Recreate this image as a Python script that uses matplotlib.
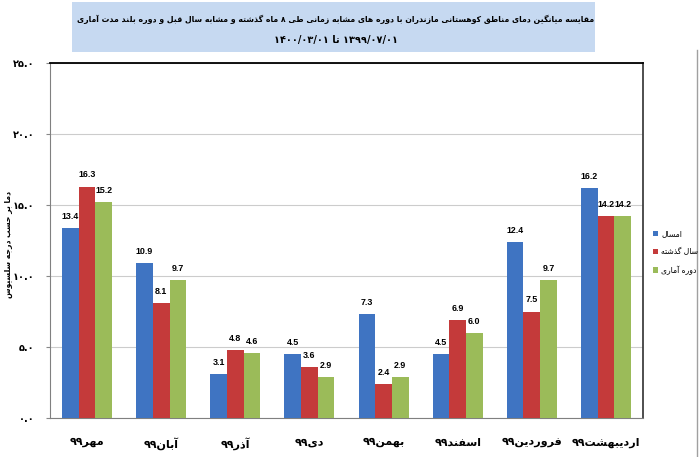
import numpy as np
import matplotlib
matplotlib.use("Agg")
import matplotlib.pyplot as plt
from matplotlib.patches import Rectangle
from matplotlib.lines import Line2D

# --- data ---
months = ["مهر۹۹", "آبان۹۹", "آذر۹۹", "دی۹۹", "بهمن۹۹", "اسفند۹۹", "فروردین۹۹", "اردیبهشت۹۹"]
this_year = [13.4, 10.9, 3.1, 4.5, 7.3, 4.5, 12.4, 16.2]
last_year = [16.3, 8.1, 4.8, 3.6, 2.4, 6.9, 7.5, 14.2]
long_term = [15.2, 9.7, 4.6, 2.9, 2.9, 6.0, 9.7, 14.2]
series_names = ["امسال", "سال گذشته", "دوره آماری"]
yticks = [0, 5, 10, 15, 20, 25]
ytick_labels = ["۰.۰", "۵.۰", "۱۰.۰", "۱۵.۰", "۲۰.۰", "۲۵.۰"]
title1 = "مقایسه میانگین دمای مناطق کوهستانی مازندران با دوره های مشابه زمانی طی ۸ ماه گذشته و مشابه سال قبل و دوره بلند مدت آماری"
title2 = "۱۴۰۰/۰۳/۰۱ " + "تا" + " ۱۳۹۹/۰۷/۰۱"
ylabel = "دما بر حسب درجه سلسیوس"
colors = ["#3F74C2", "#C43A3A", "#9BBB59"]

# --- minimal persian shaping (matplotlib has no text shaping) ---
FORMS = {
    "ا": (0xFE8D, 0xFE8E), "آ": (0xFE81, 0xFE82), "د": (0xFEA9, 0xFEAA),
    "ذ": (0xFEAB, 0xFEAC), "ر": (0xFEAD, 0xFEAE), "ز": (0xFEAF, 0xFEB0),
    "ژ": (0xFB8A, 0xFB8B), "و": (0xFEED, 0xFEEE),
    "ب": (0xFE8F,), "پ": (0xFB56,), "ت": (0xFE95,), "ث": (0xFE99,),
    "ج": (0xFE9D,), "چ": (0xFB7A,), "ح": (0xFEA1,), "خ": (0xFEA5,),
    "س": (0xFEB1,), "ش": (0xFEB5,), "ص": (0xFEB9,), "ض": (0xFEBD,),
    "ط": (0xFEC1,), "ظ": (0xFEC5,), "ع": (0xFEC9,), "غ": (0xFECD,),
    "ف": (0xFED1,), "ق": (0xFED5,), "ک": (0xFB8E,), "گ": (0xFB92,),
    "ل": (0xFEDD,), "م": (0xFEE1,), "ن": (0xFEE5,), "ه": (0xFEE9,),
    "ی": (0xFBFC,),
}


def forms(c):
    f = FORMS[c]
    if len(f) == 1:
        b = f[0]
        return (b, b + 1, b + 2, b + 3)
    return f


def dual(c):
    return c in FORMS and len(FORMS[c]) == 1


def shape(text):
    out = []
    for i, c in enumerate(text):
        if c not in FORMS:
            out.append(c)
            continue
        prev = text[i - 1] if i > 0 else ""
        nxt = text[i + 1] if i + 1 < len(text) else ""
        jp = dual(prev)
        jn = dual(c) and nxt in FORMS
        f = forms(c)
        if jp and jn:
            out.append(chr(f[3]))
        elif jp:
            out.append(chr(f[1]))
        elif jn:
            out.append(chr(f[2]))
        else:
            out.append(chr(f[0]))
    s = "".join(out)[::-1]
    # keep digit runs left-to-right
    res, run = "", ""
    for ch in s:
        if "۰" <= ch <= "۹" or ch in "/.":
            run += ch
        else:
            res += run[::-1] + ch
            run = ""
    return res + run[::-1]


def shape_mixed(text):
    # text already in visual order for digits; shape only persian words
    parts = text.split(" ")
    return " ".join(shape(p) if any(c in FORMS for c in p) else p for p in parts)


plt.rcParams["font.family"] = ["DejaVu Sans"]

fig = plt.figure(figsize=(7, 4.57), dpi=100)
ax = fig.add_axes([50 / 700, 1 - 418 / 457, 593 / 700, 355 / 457])

x = np.arange(len(months))
w = 0.225
for k, (vals, col) in enumerate(zip([this_year, last_year, long_term], colors)):
    bars = ax.bar(x + (k - 1) * w, vals, w, color=col, zorder=3)
    for b, v in zip(bars, vals):
        ax.text(b.get_x() + b.get_width() / 2, v + 0.5, f"{v:.1f}",
                ha="center", va="bottom", fontsize=6.4, fontweight="bold",
                family="Liberation Sans")

ax.set_xlim(-0.5, len(months) - 0.5)
ax.set_ylim(0, 25)
ax.set_yticks(yticks)
ax.set_yticklabels(ytick_labels, fontsize=7, fontweight="bold")
ax.set_xticks(x)
ax.set_xticklabels([shape(m) for m in months], fontsize=8, fontweight="bold")
ax.tick_params(axis="x", length=0, pad=14)
ax.tick_params(axis="y", length=3, color="#888888", pad=8)
ax.yaxis.grid(True, color="#cccccc", lw=0.8, zorder=0)
ax.set_axisbelow(True)
for s in ["left", "right", "bottom"]:
    ax.spines[s].set_color("#808080")
ax.spines["top"].set_color("black")
ax.spines["top"].set_linewidth(1.3)
ax.spines["right"].set_linewidth(1.3)
ax.spines["right"].set_color("#404040")
fig.text(9 / 700, 1 - 245 / 457, shape(ylabel), rotation=90, ha="center",
         va="center", fontsize=5.5, fontweight="bold")

# title box
fig.patches.append(Rectangle((72 / 700, 1 - 52 / 457), 523 / 700, 50 / 457,
                             transform=fig.transFigure, facecolor="#C6D9F1",
                             edgecolor="none", zorder=0))
fig.text(336 / 700, 1 - 19 / 457, shape(title1), ha="center", va="center",
         fontsize=5.6, fontweight="bold")
fig.text(336 / 700, 1 - 40 / 457, shape_mixed(title2), ha="center", va="center",
         fontsize=7, fontweight="bold")

# legend
handles = [Rectangle((0, 0), 1, 1, facecolor=c) for c in colors]
leg = fig.legend(handles, [shape(n) for n in series_names],
                 loc="center left", bbox_to_anchor=(650 / 700, 1 - 252 / 457),
                 frameon=False, fontsize=5.5, handlelength=0.7, handleheight=0.7,
                 handletextpad=0.4, labelspacing=1.2, borderaxespad=0)

# outer right border
fig.add_artist(Line2D([697 / 700, 697 / 700], [0, 1 - 50 / 457],
                      transform=fig.transFigure, color="#a0a0a0", lw=1))

fig.savefig("out.png", dpi=100)
